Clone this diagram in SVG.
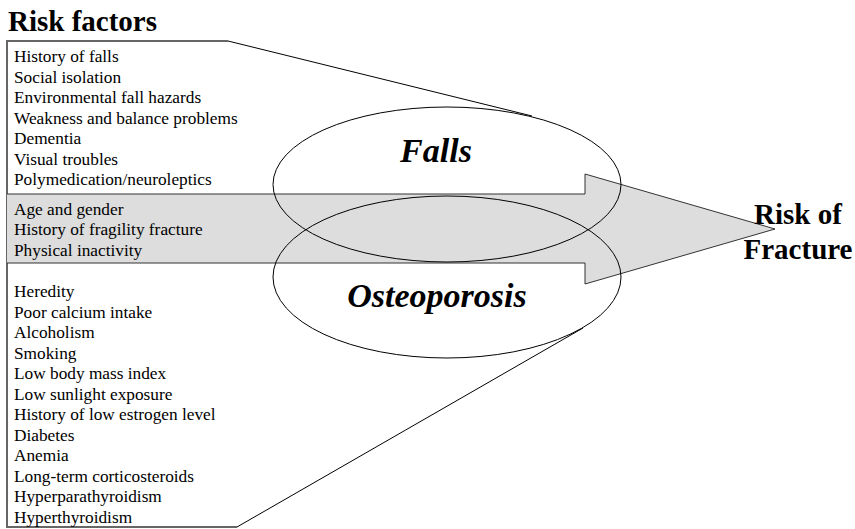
<svg xmlns="http://www.w3.org/2000/svg" width="855" height="529" viewBox="0 0 855 529">
<style>
text{font-family:'Liberation Serif', 'Times New Roman', Times, serif}
.item{font-size:17.3px;fill:#000}
.title{font-weight:bold;fill:#000}
.ell{fill:none;stroke:#000;stroke-width:1}
.box{fill:none;stroke:#666;stroke-width:2}
.diag{fill:none;stroke:#000;stroke-width:1}
</style>
<rect width="855" height="529" fill="#fff"/>
<g id="risk-factors-title"><text class="title" x="8" y="31" font-size="29">Risk factors</text></g>
<g id="connectors">
<polyline class="box" points="228,41 7,41 7,527 237,527"/>
<line class="diag" x1="228" y1="41" x2="532" y2="116"/>
<line class="diag" x1="237" y1="527" x2="583" y2="328"/>
</g>
<g id="arrow">
<polygon points="7,194 585,194 585,174 775,229 585,284 585,263 7,263" fill="#dddddd" stroke="none"/>
<polyline points="7,194 585,194 585,174 775,229 585,284 585,263 7,263" fill="none" stroke="#333" stroke-width="1"/>
</g>
<g id="falls-factors">
<text class="item" x="14" y="62">History of falls</text>
<text class="item" x="14" y="83">Social isolation</text>
<text class="item" x="14" y="103">Environmental fall hazards</text>
<text class="item" x="14" y="124">Weakness and balance problems</text>
<text class="item" x="14" y="144">Dementia</text>
<text class="item" x="14" y="165">Visual troubles</text>
<text class="item" x="14" y="185">Polymedication/neuroleptics</text>
</g>
<g id="common-factors">
<text class="item" x="14" y="215">Age and gender</text>
<text class="item" x="14" y="235">History of fragility fracture</text>
<text class="item" x="14" y="256">Physical inactivity</text>
</g>
<g id="osteoporosis-factors">
<text class="item" x="14" y="297">Heredity</text>
<text class="item" x="14" y="318">Poor calcium intake</text>
<text class="item" x="14" y="338">Alcoholism</text>
<text class="item" x="14" y="359">Smoking</text>
<text class="item" x="14" y="379">Low body mass index</text>
<text class="item" x="14" y="400">Low sunlight exposure</text>
<text class="item" x="14" y="420">History of low estrogen level</text>
<text class="item" x="14" y="441">Diabetes</text>
<text class="item" x="14" y="461">Anemia</text>
<text class="item" x="14" y="482">Long-term corticosteroids</text>
<text class="item" x="14" y="502">Hyperparathyroidism</text>
<text class="item" x="14" y="523">Hyperthyroidism</text>
</g>
<g id="falls">
<ellipse class="ell" cx="447" cy="184.5" rx="174" ry="77.5"/>
<text class="title" x="436" y="162" font-size="34" font-style="italic" text-anchor="middle">Falls</text>
</g>
<g id="osteoporosis">
<ellipse class="ell" cx="447" cy="277" rx="174" ry="81"/>
<text class="title" x="437" y="307" font-size="34" font-style="italic" text-anchor="middle">Osteoporosis</text>
</g>
<g id="risk-of-fracture">
<text class="title" x="798" y="224" font-size="29" text-anchor="middle">Risk of</text>
<text class="title" x="798" y="259" font-size="29" text-anchor="middle">Fracture</text>
</g>
</svg>
